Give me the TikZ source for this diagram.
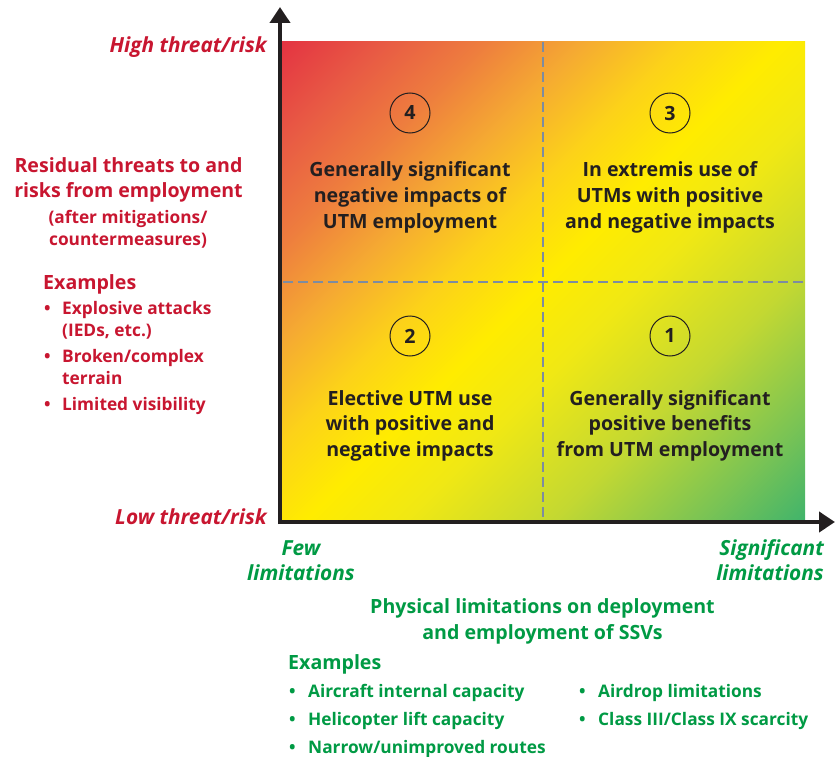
\documentclass[tikz,border=0pt]{standalone}
\usepackage{fontspec}
\setmainfont{Open Sans}
\usetikzlibrary{arrows.meta}
\definecolor{txtdark}{RGB}{35,31,32}
\definecolor{riskred}{RGB}{200,22,48}
\definecolor{limgreen}{RGB}{0,154,68}
\definecolor{dashgray}{RGB}{125,140,160}
\pgfdeclarehorizontalshading{quadshade}{100bp}{%
 rgb(0bp)=(0.894,0.204,0.259);
 rgb(14.64bp)=(0.894,0.204,0.259);
 rgb(21.71bp)=(0.910,0.353,0.267);
 rgb(28.79bp)=(0.933,0.490,0.243);
 rgb(35.86bp)=(0.961,0.667,0.196);
 rgb(42.93bp)=(0.988,0.824,0.098);
 rgb(50bp)=(1,0.925,0);
 rgb(57.07bp)=(0.941,0.910,0.078);
 rgb(67.68bp)=(0.765,0.847,0.196);
 rgb(78.28bp)=(0.471,0.765,0.333);
 rgb(85.36bp)=(0.255,0.706,0.420);
 rgb(100bp)=(0.255,0.706,0.420)}
\newcommand\szBig{\fontsize{19.6}{26}\selectfont\bfseries}
\newcommand\szItal{\fontsize{20.8}{26}\selectfont\bfseries\itshape}
\newcommand\szSmall{\fontsize{17.3}{22}\selectfont\bfseries}
\newcommand\bulR{\makebox[18pt][l]{\textbullet}}
\newcommand\indR{\hspace*{18pt}}
\newcommand\bulG{\makebox[19pt][l]{\textbullet}}
\tikzset{
  axisline/.style={line width=4pt, draw=txtdark, -{Triangle[width=20pt,length=16pt]}},
  quarterline/.style={draw=dashgray, line width=1.2pt, dash pattern=on 10pt off 5pt},
  numc/.style={circle, draw=txtdark, line width=1pt, minimum size=40pt, inner sep=0pt, text=txtdark, font=\szBig},
  quadtxt/.style={inner sep=0pt, anchor=base, align=center, text=txtdark, font=\szBig},
  redbig/.style={inner sep=0pt, anchor=base, text=riskred, font=\szBig},
  redsmall/.style={inner sep=0pt, anchor=base, text=riskred, font=\szSmall},
  redital/.style={inner sep=0pt, anchor=base east, text=riskred, font=\szItal},
  grnbig/.style={inner sep=0pt, anchor=base, text=limgreen, font=\szBig},
  grnsmall/.style={inner sep=0pt, anchor=base west, align=left, text=limgreen, font=\fontsize{17.3}{22}\selectfont\bfseries},
  grnital/.style={inner sep=0pt, anchor=base, text=limgreen, font=\szItal},
}
\begin{document}
\begin{tikzpicture}[x=1pt, y=-1pt]
\useasboundingbox (0,0) rectangle (835,757);
% gradient field
\shade[shading=quadshade, shading angle=-45] (281,42) rectangle (805,522);
% quadrant dividers
\coordinate (midtop) at (543,42);
\coordinate (midbot) at (543,520);
\coordinate (midleft) at (283,282);
\coordinate (midright) at (805,282);
\draw[quarterline] (midtop) -- (midbot);
\draw[quarterline] (midleft) -- (midright);
% axes
\coordinate (ybase) at (280,524);
\coordinate (ytip) at (280,7);
\coordinate (xbase) at (278,522);
\coordinate (xtip) at (835,522);
\draw[axisline] (ybase) -- (ytip);
\draw[axisline] (xbase) -- (xtip);
% quadrant numbers
\node[numc] (n4) at (410,113) {4};
\node[numc] (n3) at (670,113) {3};
\node[numc] (n2) at (410,336) {2};
\node[numc] (n1) at (670,336) {1};
% quadrant texts (anchor = baseline of last line)
\node[quadtxt] (q4) at (410,228) {Generally significant\\[-0.2pt]negative impacts of\\[-0.2pt]UTM employment};
\node[quadtxt] (q3) at (670,228) {In extremis use of\\[-0.2pt]UTMs with positive\\[-0.2pt]and negative impacts};
\node[quadtxt] (q2) at (410,456) {Elective UTM use\\[-0.7pt]with positive and\\[-0.7pt]negative impacts};
\node[quadtxt] (q1) at (670,456) {Generally significant\\[-0.7pt]positive benefits\\[-0.7pt]from UTM employment};
% vertical axis labels
\node[redital] (high) at (267,53) {High threat/risk};
\node[redital] (low) at (267,524) {Low threat/risk};
\node[redbig, align=center] (resid) at (128.5,197) {Residual threats to and\\[-1pt]risks from employment};
\node[redsmall, align=center] (after) at (128,245) {(after mitigations/\\countermeasures)};
\node[redbig, anchor=base west] (exr) at (43,289) {Examples};
\node[redsmall, anchor=base west, align=left] (exrlist) at (44,410) {\bulR Explosive attacks\\\indR (IEDs, etc.)\\[4pt]\bulR Broken/complex\\\indR terrain\\[4pt]\bulR Limited visibility};
% horizontal axis labels
\node[grnital, align=center] (few) at (301,580) {Few\\[-1pt]limitations};
\node[grnital, anchor=base east, align=right] (sig) at (824,580) {Significant\\[-1pt]limitations};
\node[grnbig, align=center] (phys) at (542.5,639.5) {Physical limitations on deployment\\[0.5pt]and employment of SSVs};
\node[grnbig, anchor=base west] (exg) at (288,669) {Examples};
\node[grnsmall] (exglist1) at (289,753) {\bulG Aircraft internal capacity\\[6pt]\bulG Helicopter lift capacity\\[6pt]\bulG Narrow/unimproved routes};
\node[grnsmall] (exglist2) at (579,725) {\bulG Airdrop limitations\\[6pt]\bulG Class III/Class IX scarcity};
\end{tikzpicture}
\end{document}
